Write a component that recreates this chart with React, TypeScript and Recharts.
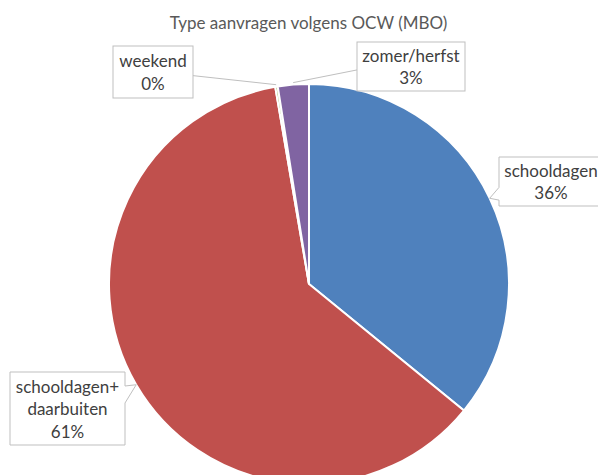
import React from 'react';
import { PieChart, Pie, Cell } from 'recharts';

const title = 'Type aanvragen volgens OCW (MBO)';
const categories = ['schooldagen', 'schooldagen+daarbuiten', 'weekend', 'zomer/herfst'];
const values = [35.9, 61.4, 0.2, 2.5];
const colors = ['#4F81BD', '#C0504D', '#9BBB59', '#8064A2'];

const data = categories.map((name, i) => ({ name, value: values[i] }));

// label box layout relative to pie centre
type Layout = { dx: number; dy: number; w: number; h: number; kind: 'callout' | 'leader'; side: 'left' | 'right' | 'top' };
const labelLayout: Layout[] = [
  { dx: 190, dy: -127, w: 104, h: 49, kind: 'callout', side: 'left' },
  { dx: -299, dy: 88, w: 115, h: 73, kind: 'callout', side: 'right' },
  { dx: -196, dy: -238, w: 80, h: 52, kind: 'leader', side: 'right' },
  { dx: 48, dy: -242, w: 108, h: 49, kind: 'leader', side: 'left' },
];

const FONT = 'Lato, "Open Sans", sans-serif';
const FS = 17;
const RAD = Math.PI / 180;

const renderLabel = (props: any) => {
  const { cx, cy, midAngle, outerRadius, index, name, percent } = props;
  const L = labelLayout[index];
  const x = cx + L.dx;
  const y = cy + L.dy;
  const lines = String(name).replace('+', '+\n').split('\n');
  lines.push(`${Math.round(percent * 100)}%`);
  const lh = 22.5;
  const tcx = x + L.w / 2;
  const tcy = y + L.h / 2;
  const r = outerRadius + (L.kind === 'leader' ? 2 : 0);
  const tx = cx + r * Math.cos(-midAngle * RAD);
  const ty = cy + r * Math.sin(-midAngle * RAD);
  let shape: React.ReactNode;
  if (L.kind === 'callout') {
    let d = '';
    if (L.side === 'left') {
      const ny1 = y + L.h * 0.62;
      const ny2 = y + L.h * 0.88;
      d = `M${x},${y} H${x + L.w} V${y + L.h} H${x} V${ny2} L${tx},${ty} L${x},${ny1} Z`;
    } else {
      const xr = x + L.w;
      const ny1 = y + 14;
      const ny2 = y + 31;
      d = `M${x},${y} H${xr} V${ny1} L${tx},${ty} L${xr},${ny2} V${y + L.h} H${x} Z`;
    }
    shape = <path d={d} fill="#FFFFFF" stroke="#BFBFBF" strokeWidth={1} />;
  } else {
    const sx = L.side === 'right' ? x + L.w : x;
    const sy = y + L.h * 0.57;
    shape = (
      <g>
        <line x1={sx} y1={sy} x2={tx} y2={ty} stroke="#BFBFBF" strokeWidth={1} />
        <rect x={x} y={y} width={L.w} height={L.h} fill="#FFFFFF" stroke="#BFBFBF" strokeWidth={1} />
      </g>
    );
  }
  const start = tcy - ((lines.length - 1) * lh) / 2;
  return (
    <g key={`lbl-${index}`}>
      {shape}
      {lines.map((t, i) => (
        <text
          key={i}
          x={tcx}
          y={start + i * lh}
          textAnchor="middle"
          dominantBaseline="central"
          fontFamily={FONT}
          fontSize={FS}
          fill="#404040"
        >
          {t}
        </text>
      ))}
    </g>
  );
};

export default function App() {
  return (
    <div style={{ position: 'absolute', left: 0, top: 0, width: 598, height: 475, background: '#FFFFFF', overflow: 'hidden' }}>
      <PieChart width={598} height={475} margin={{ top: 0, right: 0, bottom: 0, left: 0 }}>
        <text x={308.5} y={22} textAnchor="middle" dominantBaseline="central" fontFamily={FONT} fontSize={FS} fill="#595959">
          {title}
        </text>
        <Pie
          data={data}
          dataKey="value"
          nameKey="name"
          cx={309}
          cy={284}
          outerRadius={200}
          startAngle={90}
          endAngle={-270}
          stroke="#FFFFFF"
          strokeWidth={2}
          isAnimationActive={false}
          labelLine={false}
          label={renderLabel}
        >
          {data.map((d, i) => (
            <Cell key={d.name} fill={colors[i]} />
          ))}
        </Pie>
      </PieChart>
    </div>
  );
}
